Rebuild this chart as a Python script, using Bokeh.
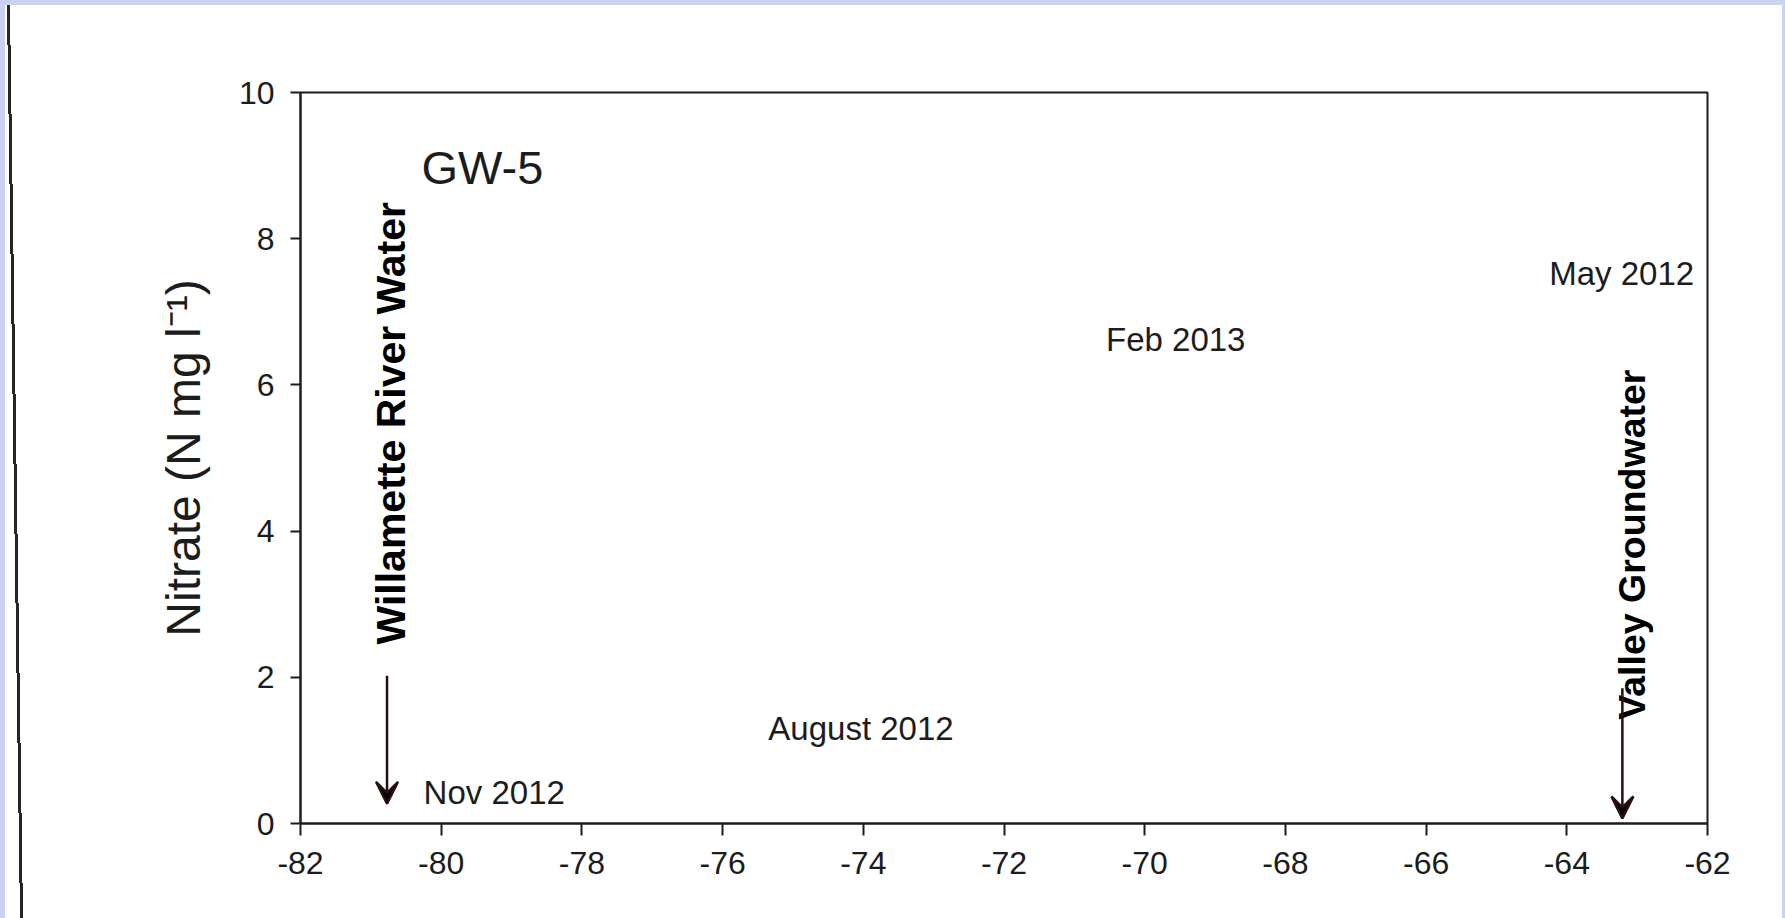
from math import pi

from bokeh.core.properties import value
from bokeh.embed import file_html
from bokeh.layouts import row
from bokeh.models import Arrow, ColumnDataSource, Div, FixedTicker, Range1d, VeeHead
from bokeh.plotting import figure
from bokeh.resources import INLINE

# --- data -------------------------------------------------------------
x_ticks = [-82, -80, -78, -76, -74, -72, -70, -68, -66, -64, -62]
x_tick_labels = ["-82", "-80", "-78", "-76", "-74", "-72", "-70", "-68", "-66", "-64", "-62"]
y_ticks = [0, 2, 4, 6, 8, 10]
y_tick_labels = ["0", "2", "4", "6", "8", "10"]

# sampling dates placed at their (d18O, nitrate) positions
sample_labels = ["May 2012", "Feb 2013", "August 2012", "Nov 2012"]
sample_x = [-64.25, -70.55, -75.35, -80.25]
sample_y = [7.52, 6.62, 1.30, 0.42]

# end-member labels and the arrows pointing at them
member_labels = ["Willamette River Water", "Valley Groundwater"]
member_x = [-80.72, -63.08]
member_y = [2.45, 1.42]
arrow_x = [-80.77, -63.21]
arrow_y_start = [2.02, 1.85]
arrow_y_end = [0.27, 0.07]

site_name = "GW-5"
site_x = -80.28
site_y = 8.98

W, H = 1785, 918
EDGE_W = 24          # strip holding the page fold line
PAD_L, PAD_T, PAD_R = 5, 5, 3
INK = "#1c1c1c"
FONT = "Liberation Sans"
BLUE = "#c9d3f1"

p = figure(width=W - PAD_L - EDGE_W - PAD_R, height=H - PAD_T,
           output_backend="svg", toolbar_location=None,
           x_range=Range1d(-82, -62), y_range=Range1d(0, 10),
           min_border_left=300 - PAD_L - EDGE_W, min_border_right=75,
           min_border_top=92 - PAD_T, min_border_bottom=95)
p.margin = (PAD_T, PAD_R, 0, 0)
p.background_fill_color = "white"
p.border_fill_color = "white"
p.grid.visible = False
p.outline_line_color = INK
p.outline_line_width = 2

for ax, ticks, labels in ((p.xaxis[0], x_ticks, x_tick_labels),
                          (p.yaxis[0], y_ticks, y_tick_labels)):
    ax.ticker = FixedTicker(ticks=ticks)
    ax.major_label_overrides = dict(zip(ticks, labels))
    ax.axis_line_color = INK
    ax.axis_line_width = 2
    ax.major_tick_line_color = INK
    ax.major_tick_line_width = 2
    ax.major_tick_in = 0
    ax.minor_tick_line_color = None
    ax.major_label_text_font = FONT
    ax.major_label_text_font_size = "32px"
    ax.major_label_text_color = INK

p.xaxis.major_tick_out = 12
p.xaxis.major_label_standoff = 16
p.yaxis.major_tick_out = 10
p.yaxis.major_label_standoff = 16

p.yaxis.axis_label = "Nitrate (N mg l\u207b\u00b9)"
p.yaxis.axis_label_text_font = FONT
p.yaxis.axis_label_text_font_size = "48px"
p.yaxis.axis_label_text_font_style = "normal"
p.yaxis.axis_label_text_color = INK
p.yaxis.axis_label_standoff = 26

# site name
p.text(x=[site_x], y=[site_y], text=[site_name], text_font=value(FONT),
       text_font_size="47px", text_color=INK, text_baseline="alphabetic")

# sampling dates
samples = ColumnDataSource(dict(x=sample_x, y=sample_y, text=sample_labels))
p.text(x="x", y="y", text="text", source=samples, text_font=value(FONT),
       text_font_size="33px", text_color=INK, text_baseline="alphabetic")

# end-member labels, written bottom to top
for i, size in ((0, "41px"), (1, "37.5px")):
    p.text(x=[member_x[i]], y=[member_y[i]], text=[member_labels[i]], angle=pi / 2,
           text_font=value(FONT), text_font_size=size, text_font_style="bold",
           text_color="black", text_align="left", text_baseline="middle")

ARROW = "#2a0d0d"
for xa, y0, y1 in zip(arrow_x, arrow_y_start, arrow_y_end):
    p.add_layout(Arrow(x_start=xa, y_start=y0, x_end=xa, y_end=y1,
                       line_color=ARROW, line_width=2.5,
                       end=VeeHead(size=22, line_color=ARROW, line_width=2.5)))

# left page edge: white strip crossed by a slightly slanted dark fold line
edge = Div(text="", width=EDGE_W, height=H - PAD_T, margin=(PAD_T, 0, 0, PAD_L),
           styles={"background": "linear-gradient(89.18deg, #ffffff 0px, #ffffff 15px, "
                                 "#262626 15px, #262626 18px, #ffffff 18px, #ffffff 100%)"})

# light blue page margin on the top, left and right; white everywhere else
page_bg = (f"linear-gradient(to right, {BLUE} 0px, {BLUE} {PAD_L}px, transparent {PAD_L}px, "
           f"transparent calc(100% - {PAD_R}px), {BLUE} calc(100% - {PAD_R}px)), "
           f"linear-gradient(to bottom, {BLUE} 0px, {BLUE} {PAD_T}px, #ffffff {PAD_T}px)")
page = row(edge, p, spacing=0, styles={"background": page_bg})

open("out.html", "w").write(file_html(page, INLINE))
